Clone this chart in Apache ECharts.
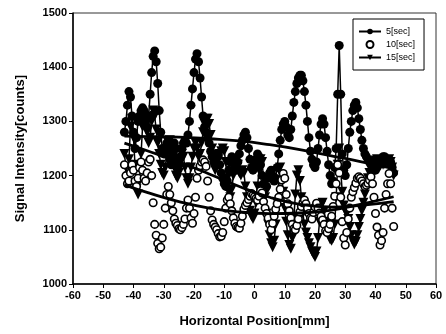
<!DOCTYPE html>
<html>
<head>
<meta charset="utf-8">
<script src="https://cdn.jsdelivr.net/npm/echarts@6/dist/echarts.min.js"></script>
<style>html,body{margin:0;padding:0;background:#fff;}#c{width:446px;height:334px;}</style>
</head>
<body>
<div id="c"></div>
<script>
const positions = [
-43,-42.5,-42,-41.5,-41,-40.5,-40,-39.5,-39,-38.5,
-38,-37.5,-37,-36.5,-36,-35.5,-35,-34.5,-34,-33.5,
-33,-32.5,-32,-31.5,-31,-30.5,-30,-29.5,-29,-28.5,
-28,-27.5,-27,-26.5,-26,-25.5,-25,-24.5,-24,-23.5,
-23,-22.5,-22,-21.5,-21,-20.5,-20,-19.5,-19,-18.5,
-18,-17.5,-17,-16.5,-16,-15.5,-15,-14.5,-14,-13.5,
-13,-12.5,-12,-11.5,-11,-10.5,-10,-9.5,-9,-8.5,
-8,-7.5,-7,-6.5,-6,-5.5,-5,-4.5,-4,-3.5,
-3,-2.5,-2,-1.5,-1,-0.5,0,0.5,1,1.5,
2,2.5,3,3.5,4,4.5,5,5.5,6,6.5,
7,7.5,8,8.5,9,9.5,10,10.5,11,11.5,
12,12.5,13,13.5,14,14.5,15,15.5,16,16.5,
17,17.5,18,18.5,19,19.5,20,20.5,21,21.5,
22,22.5,23,23.5,24,24.5,25,25.5,26,26.5,
27,27.5,28,28.5,29,29.5,30,30.5,31,31.5,
32,32.5,33,33.5,34,34.5,35,35.5,36,36.5,
37,37.5,38,38.5,39,39.5,40,40.5,41,41.5,
42,42.5,43,43.5,44,44.5,45,45.5,46];

const sec5 = [
1280,1300,1330,1355,1345,1310,1280,1250,1270,1300,
1310,1320,1325,1320,1300,1290,1310,1350,1390,1420,
1430,1410,1370,1320,1280,1250,1240,1250,1260,1250,
1230,1220,1240,1260,1250,1230,1220,1235,1250,1260,
1265,1260,1275,1300,1330,1360,1390,1415,1425,1410,
1380,1345,1310,1290,1280,1270,1260,1245,1235,1225,
1230,1240,1235,1220,1205,1195,1185,1180,1190,1210,
1225,1235,1230,1215,1210,1225,1240,1255,1265,1275,
1280,1270,1250,1230,1215,1210,1220,1230,1240,1235,
1220,1200,1185,1175,1180,1195,1205,1210,1200,1190,
1195,1215,1240,1265,1285,1295,1300,1290,1275,1270,
1285,1310,1335,1355,1370,1380,1385,1385,1375,1355,
1330,1300,1270,1245,1230,1220,1215,1225,1250,1275,
1295,1305,1295,1270,1245,1220,1200,1185,1190,1215,
1250,1350,1440,1350,1240,1210,1200,1220,1250,1280,
1300,1320,1330,1335,1325,1305,1285,1265,1250,1240,
1235,1230,1225,1220,1215,1210,1210,1215,1220,1225,
1230,1235,1235,1230,1230,1225,1225,1215,1205];

const sec10 = [
1220,1200,1185,1190,1205,1220,1210,1190,1180,1195,
1215,1225,1210,1195,1190,1205,1225,1230,1200,1150,
1110,1090,1075,1065,1068,1085,1110,1140,1165,1180,
1165,1150,1135,1120,1112,1108,1102,1100,1104,1110,
1120,1140,1155,1140,1122,1112,1130,1160,1195,1210,
1218,1225,1229,1225,1217,1190,1160,1135,1118,1110,
1105,1100,1093,1087,1088,1095,1115,1140,1155,1160,
1148,1135,1122,1112,1106,1104,1103,1112,1125,1138,
1145,1150,1156,1162,1167,1164,1161,1158,1155,1162,
1172,1168,1152,1140,1130,1122,1110,1100,1112,1125,
1138,1148,1160,1175,1192,1204,1195,1165,1148,1135,
1122,1110,1102,1100,1108,1120,1133,1143,1150,1155,
1148,1140,1130,1122,1120,1132,1142,1149,1140,1131,
1125,1118,1110,1098,1095,1102,1110,1125,1143,1162,
1185,1220,1205,1160,1115,1085,1072,1095,1120,1140,
1160,1170,1178,1186,1195,1198,1195,1190,1185,1180,
1182,1186,1192,1198,1185,1160,1130,1105,1090,1072,
1080,1095,1140,1165,1185,1204,1185,1140,1106];

const sec15 = [
1240,1215,1195,1230,1290,1305,1270,1220,1175,1165,
1190,1240,1290,1310,1300,1280,1260,1270,1300,1320,
1310,1285,1260,1240,1220,1205,1200,1215,1240,1260,
1265,1255,1235,1215,1200,1195,1205,1225,1240,1235,
1215,1195,1185,1195,1215,1235,1250,1260,1250,1235,
1240,1260,1280,1295,1305,1305,1295,1275,1250,1225,
1210,1215,1230,1240,1245,1250,1245,1225,1195,1170,
1160,1175,1200,1220,1230,1220,1205,1200,1210,1205,
1180,1160,1145,1135,1125,1120,1130,1150,1180,1210,
1230,1225,1195,1160,1130,1110,1090,1075,1068,1080,
1110,1150,1190,1215,1200,1170,1140,1115,1090,1072,
1065,1085,1120,1165,1200,1210,1190,1160,1130,1110,
1095,1085,1075,1068,1060,1055,1050,1060,1085,1115,
1145,1150,1135,1115,1100,1090,1082,1080,1085,1110,
1160,1220,1250,1210,1170,1145,1135,1130,1120,1105,
1090,1080,1073,1078,1090,1105,1120,1135,1150,1165,
1180,1195,1205,1215,1220,1225,1228,1230,1228,1225,
1222,1220,1222,1225,1228,1230,1225,1215,1200];

const trendPositions = [-43,-35,-25,-15,-5,5,15,25,35,46];
const trend5  = [1273,1272,1271,1268,1264,1257,1248,1237,1226,1213];
const trend15 = [1260,1245,1225,1203,1180,1160,1147,1142,1145,1152];
const trend10 = [1183,1168,1152,1140,1133,1130,1131,1136,1147,1161];

const seriesNames = ['5[sec]','10[sec]','15[sec]'];
const xTicks = {min:-60, max:60, interval:10};
const yTicks = {min:1000, max:1500, interval:100};

const pair = (xs, ys) => xs.map((x, i) => [x, ys[i]]);
const FONT = "'Liberation Sans', Arial, sans-serif";

const chart = echarts.init(document.getElementById('c'), null, {renderer:'canvas'});
const trendSeries = (d) => ({
  type:'line', data: pair(trendPositions, d), symbol:'none', smooth:true,
  lineStyle:{color:'#000', width:2.8}, silent:true, z:5
});
chart.setOption({
  animation:false,
  backgroundColor:'#fff',
  textStyle:{fontFamily:FONT, color:'#000'},
  grid:{left:73, right:10, top:13, bottom:50, show:true, borderColor:'#333', borderWidth:1},
  legend:{
    data:seriesNames, orient:'vertical', left:353, top:19,
    itemWidth:22, itemHeight:7, itemGap:4,
    padding:[8,9,8,5], borderColor:'#000', borderWidth:1,
    textStyle:{fontSize:9, color:'#000', fontFamily:FONT}
  },
  xAxis:{
    type:'value', min:xTicks.min, max:xTicks.max, interval:xTicks.interval,
    name:'Horizontal Position[mm]', nameLocation:'middle', nameGap:31,
    nameTextStyle:{fontSize:13, fontWeight:'bold', color:'#000', fontFamily:FONT},
    axisLine:{onZero:false, lineStyle:{color:'#000', width:1.5}},
    axisTick:{show:true, length:4, lineStyle:{color:'#000'}},
    axisLabel:{fontSize:11, fontWeight:'bold', color:'#000', margin:6, fontFamily:FONT,
      formatter:(v)=>String(v)},
    splitLine:{show:false}
  },
  yAxis:{
    type:'value', min:yTicks.min, max:yTicks.max, interval:yTicks.interval,
    name:'Signal Intensity[counts]', nameLocation:'middle', nameGap:46,
    nameTextStyle:{fontSize:13, fontWeight:'bold', color:'#000', fontFamily:FONT},
    axisLine:{show:true, onZero:false, lineStyle:{color:'#000', width:1.5}},
    axisTick:{show:true, length:4, lineStyle:{color:'#000'}},
    axisLabel:{fontSize:11, fontWeight:'bold', color:'#000', margin:6, fontFamily:FONT,
      formatter:(v)=>String(v)},
    splitLine:{show:false}
  },
  series:[
    {
      name:seriesNames[2], type:'line', data:pair(positions, sec15),
      symbol:'triangle', symbolRotate:180, symbolSize:10, showAllSymbol:true,
      itemStyle:{color:'#000'}, lineStyle:{color:'#000', width:1.5}, z:2
    },
    {
      name:seriesNames[0], type:'line', data:pair(positions, sec5),
      symbol:'circle', symbolSize:9, showAllSymbol:true,
      itemStyle:{color:'#000'}, lineStyle:{color:'#000', width:1.5}, z:3
    },
    {
      name:seriesNames[1], type:'scatter', data:pair(positions, sec10),
      symbol:'circle', symbolSize:7.5,
      itemStyle:{color:'#fff', borderColor:'#000', borderWidth:1.6, opacity:1}, z:4
    },
    trendSeries(trend5),
    trendSeries(trend15),
    trendSeries(trend10)
  ]
});
</script>
</body>
</html>
